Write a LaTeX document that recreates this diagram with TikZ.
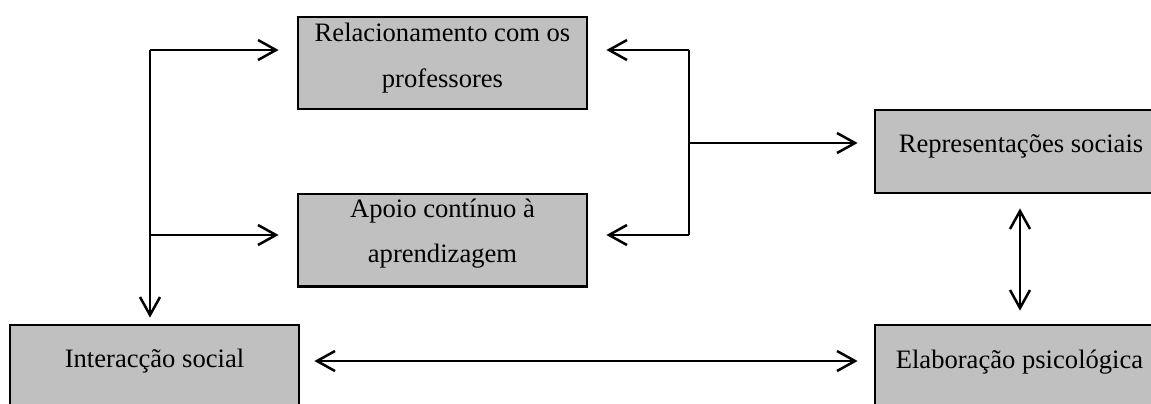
\documentclass[tikz,border=0pt]{standalone}
\usepackage{fontspec}
\setmainfont{Liberation Serif}
\usetikzlibrary{arrows.meta}
\definecolor{boxgray}{RGB}{192,192,192}
\tikzset{
  box/.style={draw=black, line width=1.4pt, fill=boxgray, rectangle, inner sep=0pt},
  txt/.style={anchor=base, inner sep=0pt, font=\fontsize{13.3}{23}\selectfont},
  conn/.style={line width=1.25pt, -{Straight Barb[length=9pt,width=10pt]}},
  conntwo/.style={line width=1.25pt, {Straight Barb[length=9pt,width=10pt]}-{Straight Barb[length=9pt,width=10pt]}},
  plain/.style={line width=1.25pt}
}
\begin{document}
\begin{tikzpicture}[x=0.5pt,y=-0.5pt]
\useasboundingbox (0,0) rectangle (1151,403);
% boxes
\node[box, minimum width=144.5pt, minimum height=46pt] (R) at (442.5,63) {};
\node[box, minimum width=144.5pt, minimum height=46.25pt] (A) at (442.5,240.25) {};
\node[box, minimum width=146.5pt, minimum height=41.5pt] (Rep) at (1021.5,151.5) {};
\node[box, minimum width=146.5pt, minimum height=42.5pt] (Elab) at (1021.5,367.5) {};
\node[box, minimum width=144.5pt, minimum height=42.5pt] (Int) at (154.5,367.5) {};
% texts
\node[txt] (R1) at (442.5,41) {Relacionamento com os};
\node[txt] (R2) at (442.5,87) {professores};
\node[txt] (A1) at (442.5,217) {Apoio contínuo à};
\node[txt] (A2) at (442.5,262) {aprendizagem};
\node[txt] (Rept) at (1021,152) {Representações sociais};
\node[txt] (Elabt) at (1019.5,368) {Elaboração psicológica};
\node[txt] (Intt) at (154.5,367.5) {Interacção social};
% left tree
\coordinate (lj1) at (150,50);
\coordinate (lj2) at (150,235);
\draw[conn] (lj1) -- ([xshift=-9pt]R.west |- lj1);
\draw[conn] (lj2) -- ([xshift=-9pt]A.west |- lj2);
\draw[conn] (lj1) -- ([yshift=3pt]Int.north -| lj1);
% right tree
\coordinate (rj1) at (689,50);
\coordinate (rj2) at (689,235);
\coordinate (rjm) at (689,143);
\draw[plain] (rj1) -- (rj2);
\draw[conn] (rj1) -- ([xshift=9pt]R.east |- rj1);
\draw[conn] (rj2) -- ([xshift=9pt]A.east |- rj2);
\draw[conn] (rjm) -- ([xshift=-8pt]Rep.west |- rjm);
% vertical double arrow
\coordinate (vx) at (1020,0);
\draw[conntwo] ([yshift=-7pt]Rep.south -| vx) -- ([yshift=6.5pt]Elab.north -| vx);
% horizontal double arrow
\coordinate (hy) at (0,361);
\draw[conntwo] ([xshift=7pt]Int.east |- hy) -- ([xshift=-8pt]Elab.west |- hy);
\end{tikzpicture}
\end{document}
